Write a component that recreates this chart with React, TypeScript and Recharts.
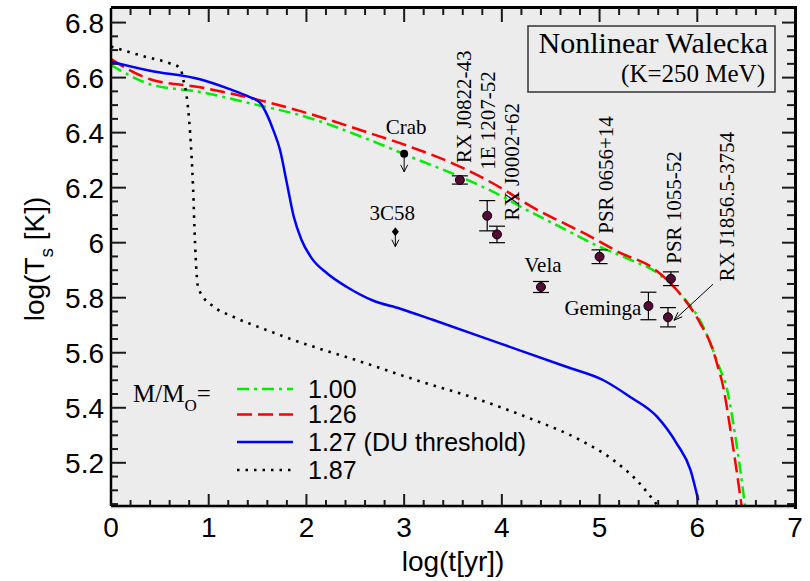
import React from 'react';
import { ComposedChart, Line, Scatter, XAxis, YAxis, ErrorBar } from 'recharts';

const SANS = '"Liberation Sans", Arial, Helvetica, sans-serif';
const SERIF = '"Liberation Serif", "Times New Roman", serif';

// cooling curves: [log(t[yr]), log(Ts[K])]
const curve100: [number, number][] = [
  [0, 6.646], [0.4, 6.576], [0.91, 6.548], [1.5, 6.5], [1.93, 6.464], [2.65, 6.373],
  [3.06, 6.313], [3.61, 6.234], [4.01, 6.167], [4.19, 6.131], [4.5, 6.075], [5.0, 5.985],
  [5.3, 5.94], [5.62, 5.883], [5.82, 5.816], [6.06, 5.695], [6.15, 5.62], [6.25, 5.525],
  [6.28, 5.5], [6.39, 5.295], [6.49, 5.04],
];
const curve126: [number, number][] = [
  [0, 6.667], [0.4, 6.594], [0.91, 6.565], [1.5, 6.52], [1.93, 6.479], [2.65, 6.398],
  [3.06, 6.349], [3.61, 6.27], [4.08, 6.18], [4.19, 6.155], [4.94, 6.016], [5.2, 5.965],
  [5.55, 5.907], [5.79, 5.828], [6.03, 5.707], [6.15, 5.62], [6.23, 5.525], [6.25, 5.5],
  [6.35, 5.295], [6.455, 5.04],
];
const curve127: [number, number][] = [
  [0, 6.658], [0.4, 6.625], [0.91, 6.594], [1.2, 6.56], [1.42, 6.529], [1.525, 6.509],
  [1.59, 6.47], [1.66, 6.41], [1.73, 6.337], [1.8, 6.216], [1.87, 6.095], [1.95, 6.01],
  [2.055, 5.943], [2.21, 5.889], [2.41, 5.84], [2.68, 5.79], [2.96, 5.76], [3.3, 5.719],
  [3.98, 5.634], [4.66, 5.549], [5.04, 5.5], [5.31, 5.44], [5.59, 5.367], [5.79, 5.27],
  [5.93, 5.174], [6.01, 5.064],
];
const curve187: [number, number][] = [
  [0, 6.713], [0.35, 6.676], [0.6, 6.652], [0.71, 6.634], [0.74, 6.592], [0.77, 6.543],
  [0.81, 6.398], [0.84, 6.2], [0.86, 5.998], [0.89, 5.84], [0.93, 5.81], [1.04, 5.77],
  [1.25, 5.731], [1.59, 5.683], [1.87, 5.646], [2.51, 5.573], [3.13, 5.5], [3.78, 5.428],
  [4.29, 5.361], [4.8, 5.283], [5.14, 5.21], [5.41, 5.125], [5.59, 5.046],
];

// observed pulsars
const pulsarNames = ['RX J0822-43', '1E 1207-52', 'RX J0002+62', 'Vela', 'PSR 0656+14', 'PSR 1055-52', 'Geminga', 'RX J1856.5-3754'];
const pulsarAge = [3.57, 3.85, 3.95, 4.4, 5.0, 5.73, 5.5, 5.7];
const pulsarTemp = [6.228, 6.098, 6.03, 5.839, 5.949, 5.869, 5.77, 5.729];
const pulsarErr = [0.015, 0.055, 0.03, 0.02, 0.025, 0.025, 0.05, 0.035];

// upper limits
const limitNames = ['Crab', '3C58'];
const limitAge = [3.0, 2.91];
const limitTemp = [6.323, 6.04];

const legendMasses = ['1.00', '1.26', '1.27 (DU threshold)', '1.87'];

const xMajor = [0, 1, 2, 3, 4, 5, 6, 7];
const yMajor = [5.2, 5.4, 5.6, 5.8, 6, 6.2, 6.4, 6.6, 6.8];

const X_DOMAIN: [number, number] = [0, 7];
const Y_DOMAIN: [number, number] = [5.043, 6.853];

function buildTicks(lo: number, hi: number, step: number) {
  const out: number[] = [];
  const n = Math.round((hi - lo) / step);
  for (let i = 0; i <= n; i++) out.push(Math.round((lo + i * step) * 1000) / 1000);
  return out;
}
const xTicks = buildTicks(0.2, 6.8, 0.2);
const yTicks = buildTicks(5.05, 6.8, 0.05);

const isMajorX = (v: number) => xMajor.some((m) => Math.abs(m - v) < 1e-6);
const isMajorY = (v: number) => yMajor.some((m) => Math.abs(m - v) < 1e-6);

const toPts = (c: [number, number][]) => c.map(([x, y]) => ({ x, y }));

const pulsars = pulsarNames.map((name, i) => ({ name, x: pulsarAge[i], y: pulsarTemp[i], err: pulsarErr[i] }));
const limits = limitNames.map((name, i) => ({ name, x: limitAge[i], y: limitTemp[i] }));

// inward tick marks on the four sides of the frame, placed through the chart scales
const tickMarks = [
  ...xTicks.map((v) => ({ x: v, y: Y_DOMAIN[0], side: 'b', major: isMajorX(v) })),
  ...xTicks.map((v) => ({ x: v, y: Y_DOMAIN[1], side: 't', major: isMajorX(v) })),
  ...yTicks.map((v) => ({ x: X_DOMAIN[0], y: v, side: 'l', major: isMajorY(v) })),
  ...yTicks.map((v) => ({ x: X_DOMAIN[1], y: v, side: 'r', major: isMajorY(v) })),
];

const TICK_LEN: Record<string, [number, number]> = { b: [12, 6], t: [14, 7], l: [15, 7], r: [13, 8] };

const TickShape = (props: any) => {
  const { cx, cy, payload } = props;
  const len = TICK_LEN[payload.side][payload.major ? 0 : 1];
  let x2 = cx, y2 = cy;
  if (payload.side === 'b') y2 = cy - len;
  if (payload.side === 't') y2 = cy + len;
  if (payload.side === 'l') x2 = cx + len;
  if (payload.side === 'r') x2 = cx - len;
  return <path d={`M${cx},${cy}L${x2},${y2}`} stroke="#1a1a1a" strokeWidth={2} fill="none" />;
};

// label placement relative to the marker (pixels)
const LABELS: Record<string, { dx: number; dy: number; rot?: boolean; anchor?: string; arrow?: number[] }> = {
  'RX J0822-43': { dx: 11, dy: -17, rot: true },
  '1E 1207-52': { dx: 8, dy: -46, rot: true },
  'RX J0002+62': { dx: 22, dy: -14, rot: true },
  Vela: { dx: 2, dy: -15, anchor: 'middle' },
  'PSR 0656+14': { dx: 13, dy: -23, rot: true },
  'PSR 1055-52': { dx: 10, dy: -15, rot: true },
  Geminga: { dx: -7, dy: 9, anchor: 'end' },
  'RX J1856.5-3754': { dx: 66, dy: -36, rot: true, arrow: [45, -33, 6, 3] },
  Crab: { dx: 2, dy: -20, anchor: 'middle' },
  '3C58': { dx: -3, dy: -12, anchor: 'middle' },
};

const PointLabel = ({ cx, cy, name }: { cx: number; cy: number; name: string }) => {
  const l = LABELS[name];
  if (!l) return null;
  const tx = cx + l.dx;
  const ty = cy + l.dy;
  let arrow = null;
  if (l.arrow) {
    const [x1, y1, x2, y2] = l.arrow;
    const ax = cx + x2, ay = cy + y2;
    const ang = Math.atan2(y2 - y1, x2 - x1);
    const h = 9;
    const a1 = ang + Math.PI - 0.35, a2 = ang + Math.PI + 0.35;
    arrow = (
      <g stroke="#000" strokeWidth={1} fill="none">
        <line x1={cx + x1} y1={cy + y1} x2={ax} y2={ay} />
        <polyline points={`${ax + h * Math.cos(a1)},${ay + h * Math.sin(a1)} ${ax},${ay} ${ax + h * Math.cos(a2)},${ay + h * Math.sin(a2)}`} />
      </g>
    );
  }
  return (
    <g>
      <text
        x={tx}
        y={ty}
        fontFamily={SERIF}
        fontSize={21}
        fill="#000"
        textAnchor={l.rot ? 'start' : l.anchor}
        transform={l.rot ? `rotate(-90 ${tx} ${ty})` : undefined}
      >
        {name}
      </text>
      {arrow}
    </g>
  );
};

const PulsarShape = (props: any) => {
  const { cx, cy, payload } = props;
  return (
    <g>
      <circle cx={cx} cy={cy} r={4.5} fill="#550a35" stroke="#000" strokeWidth={1} />
      <PointLabel cx={cx} cy={cy} name={payload.name} />
    </g>
  );
};

const DownArrow = ({ cx, cy, len }: { cx: number; cy: number; len: number }) => (
  <g stroke="#000" strokeWidth={1} fill="none">
    <line x1={cx} y1={cy} x2={cx} y2={cy + len} />
    <polyline points={`${cx - 3.5},${cy + len - 7} ${cx},${cy + len} ${cx + 3.5},${cy + len - 7}`} />
  </g>
);

const LimitShape = (props: any) => {
  const { cx, cy, payload } = props;
  const isCrab = payload.name === 'Crab';
  return (
    <g>
      <DownArrow cx={cx} cy={cy} len={isCrab ? 18 : 15} />
      {isCrab ? (
        <circle cx={cx} cy={cy} r={4} fill="#000" />
      ) : (
        <polygon points={`${cx},${cy - 4.5} ${cx + 3.5},${cy} ${cx},${cy + 4.5} ${cx - 3.5},${cy}`} fill="#000" />
      )}
      <PointLabel cx={cx} cy={cy} name={payload.name} />
    </g>
  );
};

const fmtY = (v: number) => String(Number(v.toFixed(1)));

const BottomTick = (props: any) => {
  const { x, y, payload } = props;
  return (
    <text x={x} y={y + 31} textAnchor="middle" fontFamily={SANS} fontSize={28} fill="#000">
      {payload.value}
    </text>
  );
};

const LeftTick = (props: any) => {
  const { x, y, payload } = props;
  return (
    <text x={x - 7} y={y + 10} textAnchor="end" fontFamily={SANS} fontSize={28} fill="#000">
      {fmtY(payload.value)}
    </text>
  );
};

const SERIES = [
  { key: 'm100', data: curve100, color: '#00ee00', dash: '12 5 3 5', width: 2.5 },
  { key: 'm126', data: curve126, color: '#ff0000', dash: '15 6', width: 2.5 },
  { key: 'm127', data: curve127, color: '#0000ff', dash: undefined, width: 2.5 },
  { key: 'm187', data: curve187, color: '#000000', dash: '2.5 6', width: 2.6 },
];

const legendRowY = [389, 414.5, 442, 470];

export default function App() {
  return (
    <div style={{ position: 'absolute', left: 0, top: 0, width: 810, height: 581, background: '#fff' }}>
      {/* plot background with the top and right frame edges */}
      <div
        style={{
          position: 'absolute',
          left: 111,
          top: 6,
          width: 683,
          height: 500,
          background: '#ececec',
          borderTop: '3px solid #000',
          borderRight: '3px solid #000',
        }}
      />
      <div style={{ position: 'absolute', left: 0, top: 0 }}>
        <ComposedChart width={810} height={581} margin={{ top: 8, right: 15, bottom: 0, left: 0 }}>
          <XAxis
            dataKey="x"
            type="number"
            domain={X_DOMAIN}
            allowDataOverflow
            ticks={xMajor}
            interval={0}
            height={75}
            tickSize={0}
            tickMargin={0}
            tick={BottomTick}
            axisLine={{ stroke: '#000', strokeWidth: 2.5 }}
          />
          <YAxis
            type="number"
            domain={Y_DOMAIN}
            allowDataOverflow
            ticks={yMajor}
            interval={0}
            width={111}
            tickSize={0}
            tickMargin={0}
            tick={LeftTick}
            axisLine={{ stroke: '#000', strokeWidth: 2.5 }}
          />
          <Scatter data={tickMarks} dataKey="y" shape={TickShape} isAnimationActive={false} />
          {SERIES.map((s) => (
            <Line
              key={s.key}
              data={toPts(s.data)}
              dataKey="y"
              type="monotone"
              stroke={s.color}
              strokeWidth={s.width}
              strokeDasharray={s.dash}
              dot={false}
              activeDot={false}
              isAnimationActive={false}
            />
          ))}
          <Scatter data={limits} dataKey="y" shape={LimitShape} isAnimationActive={false} />
          <Scatter data={pulsars} dataKey="y" shape={PulsarShape} isAnimationActive={false}>
            <ErrorBar dataKey="err" direction="y" width={8} stroke="#000" strokeWidth={1.2} />
          </Scatter>
        </ComposedChart>
      </div>

      <svg width={810} height={581} style={{ position: 'absolute', left: 0, top: 0, pointerEvents: 'none' }}>
        {/* model box */}
        <rect x={528} y={26} width={247} height={66} fill="none" stroke="#333" strokeWidth={1.5} />
        <text x={768} y={53} textAnchor="end" fontFamily={SERIF} fontSize={30}>Nonlinear Walecka</text>
        <text x={765} y={82} textAnchor="end" fontFamily={SERIF} fontSize={25}>(K=250 MeV)</text>

        {/* legend */}
        <text x={133} y={402} fontFamily={SERIF} fontSize={25}>
          M/M<tspan fontSize={17} dy={9}>O</tspan><tspan dy={-9}>=</tspan>
        </text>
        {SERIES.map((s, i) => (
          <g key={s.key}>
            <line x1={237} y1={legendRowY[i]} x2={293} y2={legendRowY[i]} stroke={s.color} strokeWidth={s.width} strokeDasharray={s.dash} />
            <text x={308} y={legendRowY[i] + 8.5} fontFamily={SANS} fontSize={25}>{legendMasses[i]}</text>
          </g>
        ))}

        {/* axis titles */}
        <text x={453} y={571} textAnchor="middle" fontFamily={SANS} fontSize={28}>log(t[yr])</text>
        <text x={43.5} y={259} textAnchor="middle" fontFamily={SANS} fontSize={28} transform="rotate(-90 43.5 259)">
          log(T<tspan fontSize={19} dy={9}>s</tspan><tspan dy={-9}> [K])</tspan>
        </text>
      </svg>
    </div>
  );
}
